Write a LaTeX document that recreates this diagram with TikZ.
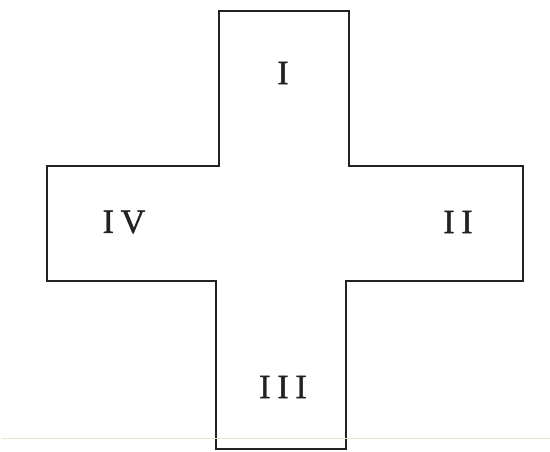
\documentclass[tikz,border=0pt]{standalone}
\usepackage{fontspec}
\setmainfont{Liberation Serif}
\usepackage{tikz}
\definecolor{Rule_Pale}{HTML}{E6E9D4}
\definecolor{Cross_Ink}{HTML}{222222}

\begin{document}
\begin{tikzpicture}[
  x=1pt, y=-1pt,
  every node/.style={font=\fontsize{34}{40}\selectfont\addfontfeature{LetterSpace=20,FakeBold=1.2}},
  outline/.style={draw=Cross_Ink, line width=1.6pt, line join=miter},
  label/.style={text=Cross_Ink, inner sep=0pt}
]
  \useasboundingbox (0,0) rectangle (550,451);

  % Cross outline
  \draw[outline] (219,11) -- (349,11) -- (349,166) -- (523,166) -- (523,281)
    -- (346,281) -- (346,449) -- (216,449) -- (216,281) -- (47,281)
    -- (47,166) -- (219,166) -- cycle;

  % Arm labels
  \node[label] (top) at (283,73) {I};
  \node[label] (right) at (458,222) {II};
  \node[label] (bottom) at (283,387) {III};
  \node[label] (left) at (124,222) {IV};

  % Faint rule
  \draw[Rule_Pale, line width=1pt] (2,438.5) -- (550,438.5);
\end{tikzpicture}
\end{document}
